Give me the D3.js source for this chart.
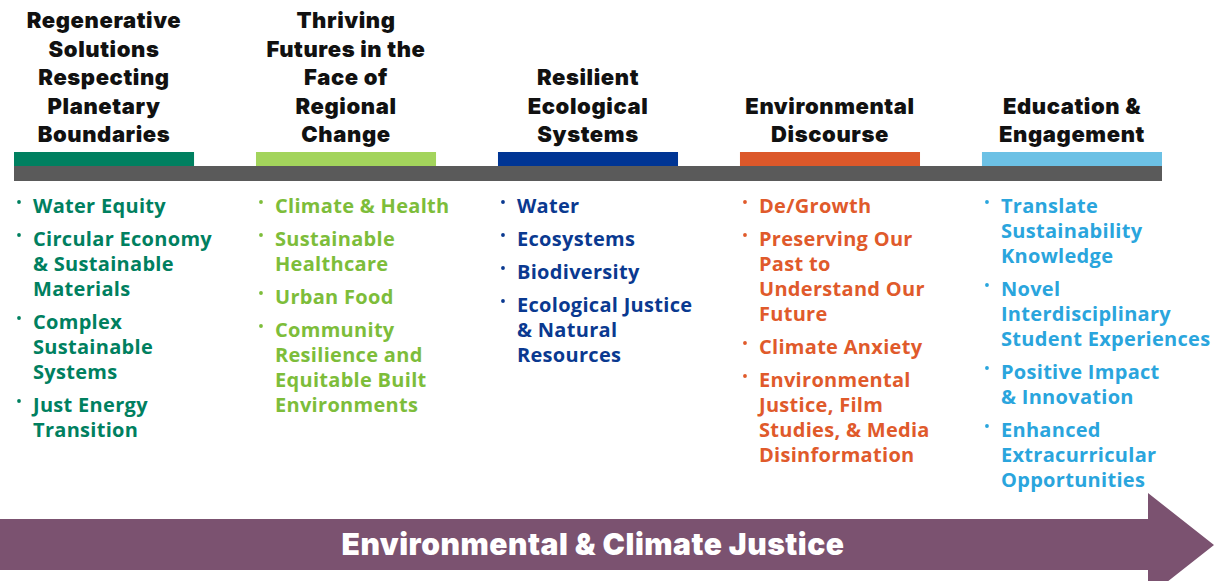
<!DOCTYPE html>
<html>
<head>
<meta charset="utf-8">
<script src="https://cdn.jsdelivr.net/npm/d3@7"></script>
<style>
  body { margin: 0; background: #fff; }
  svg { display: block; }
</style>
</head>
<body>
<div class="svg-container"></div>
<script>
// themes across the top
const themes = ['t1', 't2', 't3', 't4', 't5'];

const titles = [
  ['Regenerative', 'Solutions', 'Respecting', 'Planetary', 'Boundaries'],
  ['Thriving', 'Futures in the', 'Face of', 'Regional', 'Change'],
  ['Resilient', 'Ecological', 'Systems'],
  ['Environmental', 'Discourse'],
  ['Education &', 'Engagement']
];

// each bullet is a list of wrapped lines
const items = [
  [['Water Equity'], ['Circular Economy', '& Sustainable', 'Materials'], ['Complex', 'Sustainable', 'Systems'], ['Just Energy', 'Transition']],
  [['Climate & Health'], ['Sustainable', 'Healthcare'], ['Urban Food'], ['Community', 'Resilience and', 'Equitable Built', 'Environments']],
  [['Water'], ['Ecosystems'], ['Biodiversity'], ['Ecological Justice', '& Natural', 'Resources']],
  [['De/Growth'], ['Preserving Our', 'Past to', 'Understand Our', 'Future'], ['Climate Anxiety'], ['Environmental', 'Justice, Film', 'Studies, & Media', 'Disinformation']],
  [['Translate', 'Sustainability', 'Knowledge'], ['Novel', 'Interdisciplinary', 'Student Experiences'], ['Positive Impact', '& Innovation'], ['Enhanced', 'Extracurricular', 'Opportunities']]
];

const barColours = ['#008060', '#a3d45c', '#003594', '#dc582a', '#6cc1e5'];
const textColours = ['#00805f', '#7dbd3a', '#0a3990', '#e05a2b', '#2aa5dd'];

const banner = 'Environmental & Climate Justice';

// set up required dimensions
const width = 1214;
const height = 581;
const titleFont = 'Inter, Roboto, sans-serif';
const itemFont = '"Open Sans", sans-serif';

const svg = d3.select('.svg-container')
  .append('svg')
  .attr('width', width)
  .attr('height', height);

// column positions
const x = d3.scaleBand()
  .domain(themes)
  .range([14, 1162])
  .paddingInner(0.256)
  .paddingOuter(0);

const col = svg.selectAll('g.col')
  .data(themes)
  .enter()
  .append('g')
  .attr('class', 'col');

// coloured bars above the grey rail
col.append('rect')
  .attr('x', d => x(d))
  .attr('y', 152)
  .attr('width', x.bandwidth())
  .attr('height', 14)
  .attr('fill', (d, i) => barColours[i]);

svg.append('rect')
  .attr('x', 14)
  .attr('y', 166)
  .attr('width', 1148)
  .attr('height', 15)
  .attr('fill', '#5a5a5a');

// titles, bottom-aligned
col.append('text')
  .attr('text-anchor', 'middle')
  .attr('font-family', titleFont)
  .attr('font-weight', 900)
  .attr('font-size', 22)
  .attr('letter-spacing', 0.6)
  .attr('fill', '#111')
  .selectAll('tspan')
  .data((d, i) => titles[i].map((t, j, a) => ({ t, k: a.length - 1 - j, cx: x(d) + x.bandwidth() / 2 })))
  .enter()
  .append('tspan')
  .attr('x', d => d.cx)
  .attr('y', d => 142 - d.k * 28.5)
  .text(d => d.t);

// bullet lists
col.each(function(d, i) {
  const g = d3.select(this);
  const x0 = x(d);
  let y = 213;
  items[i].forEach(lines => {
    g.append('circle')
      .attr('cx', x0 + 5)
      .attr('cy', y - 11)
      .attr('r', 1.9)
      .attr('fill', textColours[i]);
    const t = g.append('text')
      .attr('font-family', itemFont)
      .attr('font-weight', 700)
      .attr('font-size', 20)
      .attr('letter-spacing', 0.3)
      .attr('fill', textColours[i]);
    lines.forEach((l, j) => {
      t.append('tspan')
        .attr('x', x0 + 19)
        .attr('y', y + j * 25)
        .text(l);
    });
    y += lines.length * 25 + 8;
  });
});

// arrow banner along the bottom
const arrow = d3.path();
arrow.moveTo(0, 519);
arrow.lineTo(1148, 519);
arrow.lineTo(1148, 493);
arrow.lineTo(1214, 545);
arrow.lineTo(1148, 597);
arrow.lineTo(1148, 570);
arrow.lineTo(0, 570);
arrow.closePath();

svg.append('path')
  .attr('d', arrow.toString())
  .attr('fill', '#7b5270');

svg.append('text')
  .attr('x', 593)
  .attr('y', 555)
  .attr('text-anchor', 'middle')
  .attr('font-family', titleFont)
  .attr('font-weight', 900)
  .attr('font-size', 30)
  .attr('letter-spacing', 0.5)
  .attr('fill', '#fff')
  .text(banner);
</script>
</body>
</html>
